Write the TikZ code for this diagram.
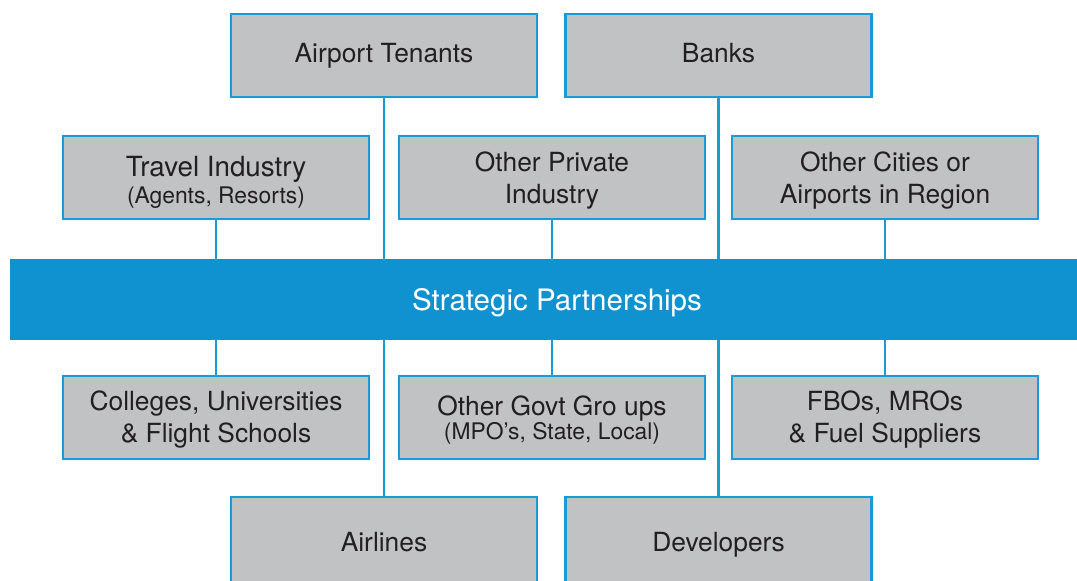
\documentclass[tikz,border=0pt]{standalone}
\usepackage{fontspec}
\setmainfont{TeX Gyre Heros}
\definecolor{bandblue}{HTML}{1192D0}
\definecolor{edgeblue}{HTML}{1A9AD7}
\definecolor{boxgray}{HTML}{C1C2C4}
\definecolor{inkgray}{HTML}{231F20}
\newcommand{\subline}[1]{{\fontsize{13}{16}\selectfont #1}}
\tikzset{
  partner/.style={draw=edgeblue,line width=1.4pt,fill=boxgray,text=inkgray,
    minimum width=6.12cm,minimum height=1.66cm,inner sep=0pt,align=center,
    font=\fontsize{15}{18.5}\selectfont,
    execute at begin node={\rule{0pt}{12.5pt}},
    execute at end node={\rule[-4pt]{0pt}{0pt}}},
  twoline/.style={execute at begin node={\rule{0pt}{#1}}},
  twoline/.default=34pt,
  band/.style={fill=bandblue,text=white,minimum width=21.88cm,minimum height=1.62cm,
    inner sep=0pt,text height=12.4pt,text depth=0pt,font=\fontsize{16.8}{20}\selectfont},
  link/.style={edgeblue,line width=1.4pt}
}
\begin{document}
\begin{tikzpicture}
  \useasboundingbox (0,0) rectangle (21.54,11.6);
  % top rows
  \node[partner] (tenants) at (7.68,10.49) {Airport Tenants};
  \node[partner] (banks) at (14.37,10.49) {Banks};
  \node[partner,twoline] (travel) at (4.32,8.05) {{\fontsize{15.8}{18.5}\selectfont Travel Industry}\\[-3pt]\subline{(Agents, Resorts)}};
  \node[partner,twoline] (private) at (11.04,8.05) {Other Private\\Industry};
  \node[partner,twoline] (cities) at (17.70,8.05) {Other Cities or\\Airports in Region};
  % the band
  \node[band] (band) at (11.14,5.61) {Strategic Partnerships};
  % lower rows
  \node[partner,twoline=33pt] (colleges) at (4.32,3.25) {Colleges, Universities\\\& Flight Schools};
  \node[partner,twoline=29.5pt] (govt) at (11.04,3.25) {Other Govt Gro ups\\[-4.5pt]\subline{(MPO’s, State, Local)}};
  \node[partner,twoline=33pt] (fbos) at (17.70,3.25) {FBOs, MROs\\\& Fuel Suppliers};
  \node[partner,minimum height=1.88cm] (airlines) at (7.68,0.72) {Airlines};
  \node[partner,minimum height=1.88cm] (developers) at (14.37,0.72) {Developers};
  % connectors
  \foreach \a in {tenants,banks,travel,private,cities}
    \draw[link] (\a) -- (\a |- band.north);
  \foreach \a in {colleges,govt,fbos,airlines,developers}
    \draw[link] (band.south -| \a) -- (\a);
\end{tikzpicture}
\end{document}
